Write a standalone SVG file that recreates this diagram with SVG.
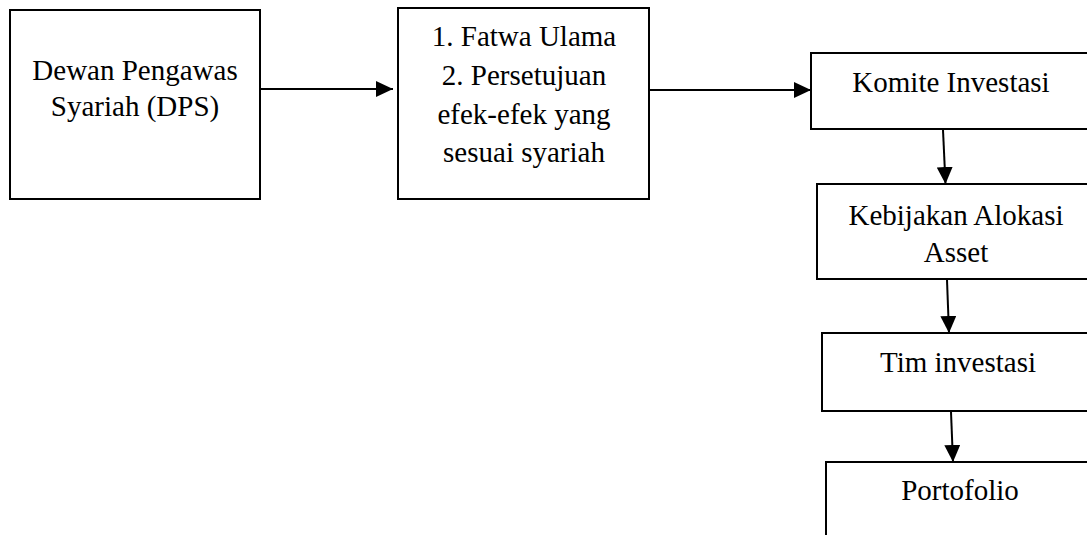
<svg xmlns="http://www.w3.org/2000/svg" width="1087" height="535" viewBox="0 0 1087 535">
<style>
.box{fill:#fff;stroke:#000;stroke-width:2}
.t{font-family:'Liberation Serif','Times New Roman',Times,serif;font-size:29px;fill:#000;text-anchor:middle}
.c{stroke:#000;stroke-width:2;fill:none}
</style>
<defs>
<marker id="ah" markerUnits="userSpaceOnUse" markerWidth="18" markerHeight="16" refX="17" refY="8" orient="auto">
<path d="M0,0 L17,8 L0,16 Z" fill="#000"/>
</marker>
</defs>
<rect width="1087" height="535" fill="#fff"/>
<g id="dps">
<rect class="box" x="10" y="10" width="250" height="189"/>
<text class="t" x="135" y="80">Dewan Pengawas</text>
<text class="t" x="135" y="116">Syariah (DPS)</text>
</g>
<g id="fatwa">
<rect class="box" x="398" y="8" width="251" height="191"/>
<text class="t" x="524" y="46">1. Fatwa Ulama</text>
<text class="t" x="524" y="85">2. Persetujuan</text>
<text class="t" x="524" y="124">efek-efek yang</text>
<text class="t" x="524" y="162">sesuai syariah</text>
</g>
<g id="komite">
<rect class="box" x="811" y="53" width="290" height="76"/>
<text class="t" x="951" y="92">Komite Investasi</text>
</g>
<g id="kebijakan">
<rect class="box" x="817" y="184" width="290" height="95"/>
<text class="t" x="956" y="225">Kebijakan Alokasi</text>
<text class="t" x="956" y="262">Asset</text>
</g>
<g id="tim">
<rect class="box" x="822" y="333" width="290" height="78"/>
<text class="t" x="958" y="372">Tim investasi</text>
</g>
<g id="portofolio">
<rect class="box" x="826" y="462" width="290" height="90"/>
<text class="t" x="960" y="500">Portofolio</text>
</g>
<g id="connectors">
<line class="c" x1="261" y1="89" x2="393" y2="89" marker-end="url(#ah)"/>
<line class="c" x1="650" y1="90" x2="811" y2="90" marker-end="url(#ah)"/>
<line class="c" x1="943" y1="130" x2="945.5" y2="184" marker-end="url(#ah)"/>
<line class="c" x1="947" y1="280" x2="949" y2="333" marker-end="url(#ah)"/>
<line class="c" x1="951" y1="412" x2="953" y2="462" marker-end="url(#ah)"/>
</g>
</svg>
